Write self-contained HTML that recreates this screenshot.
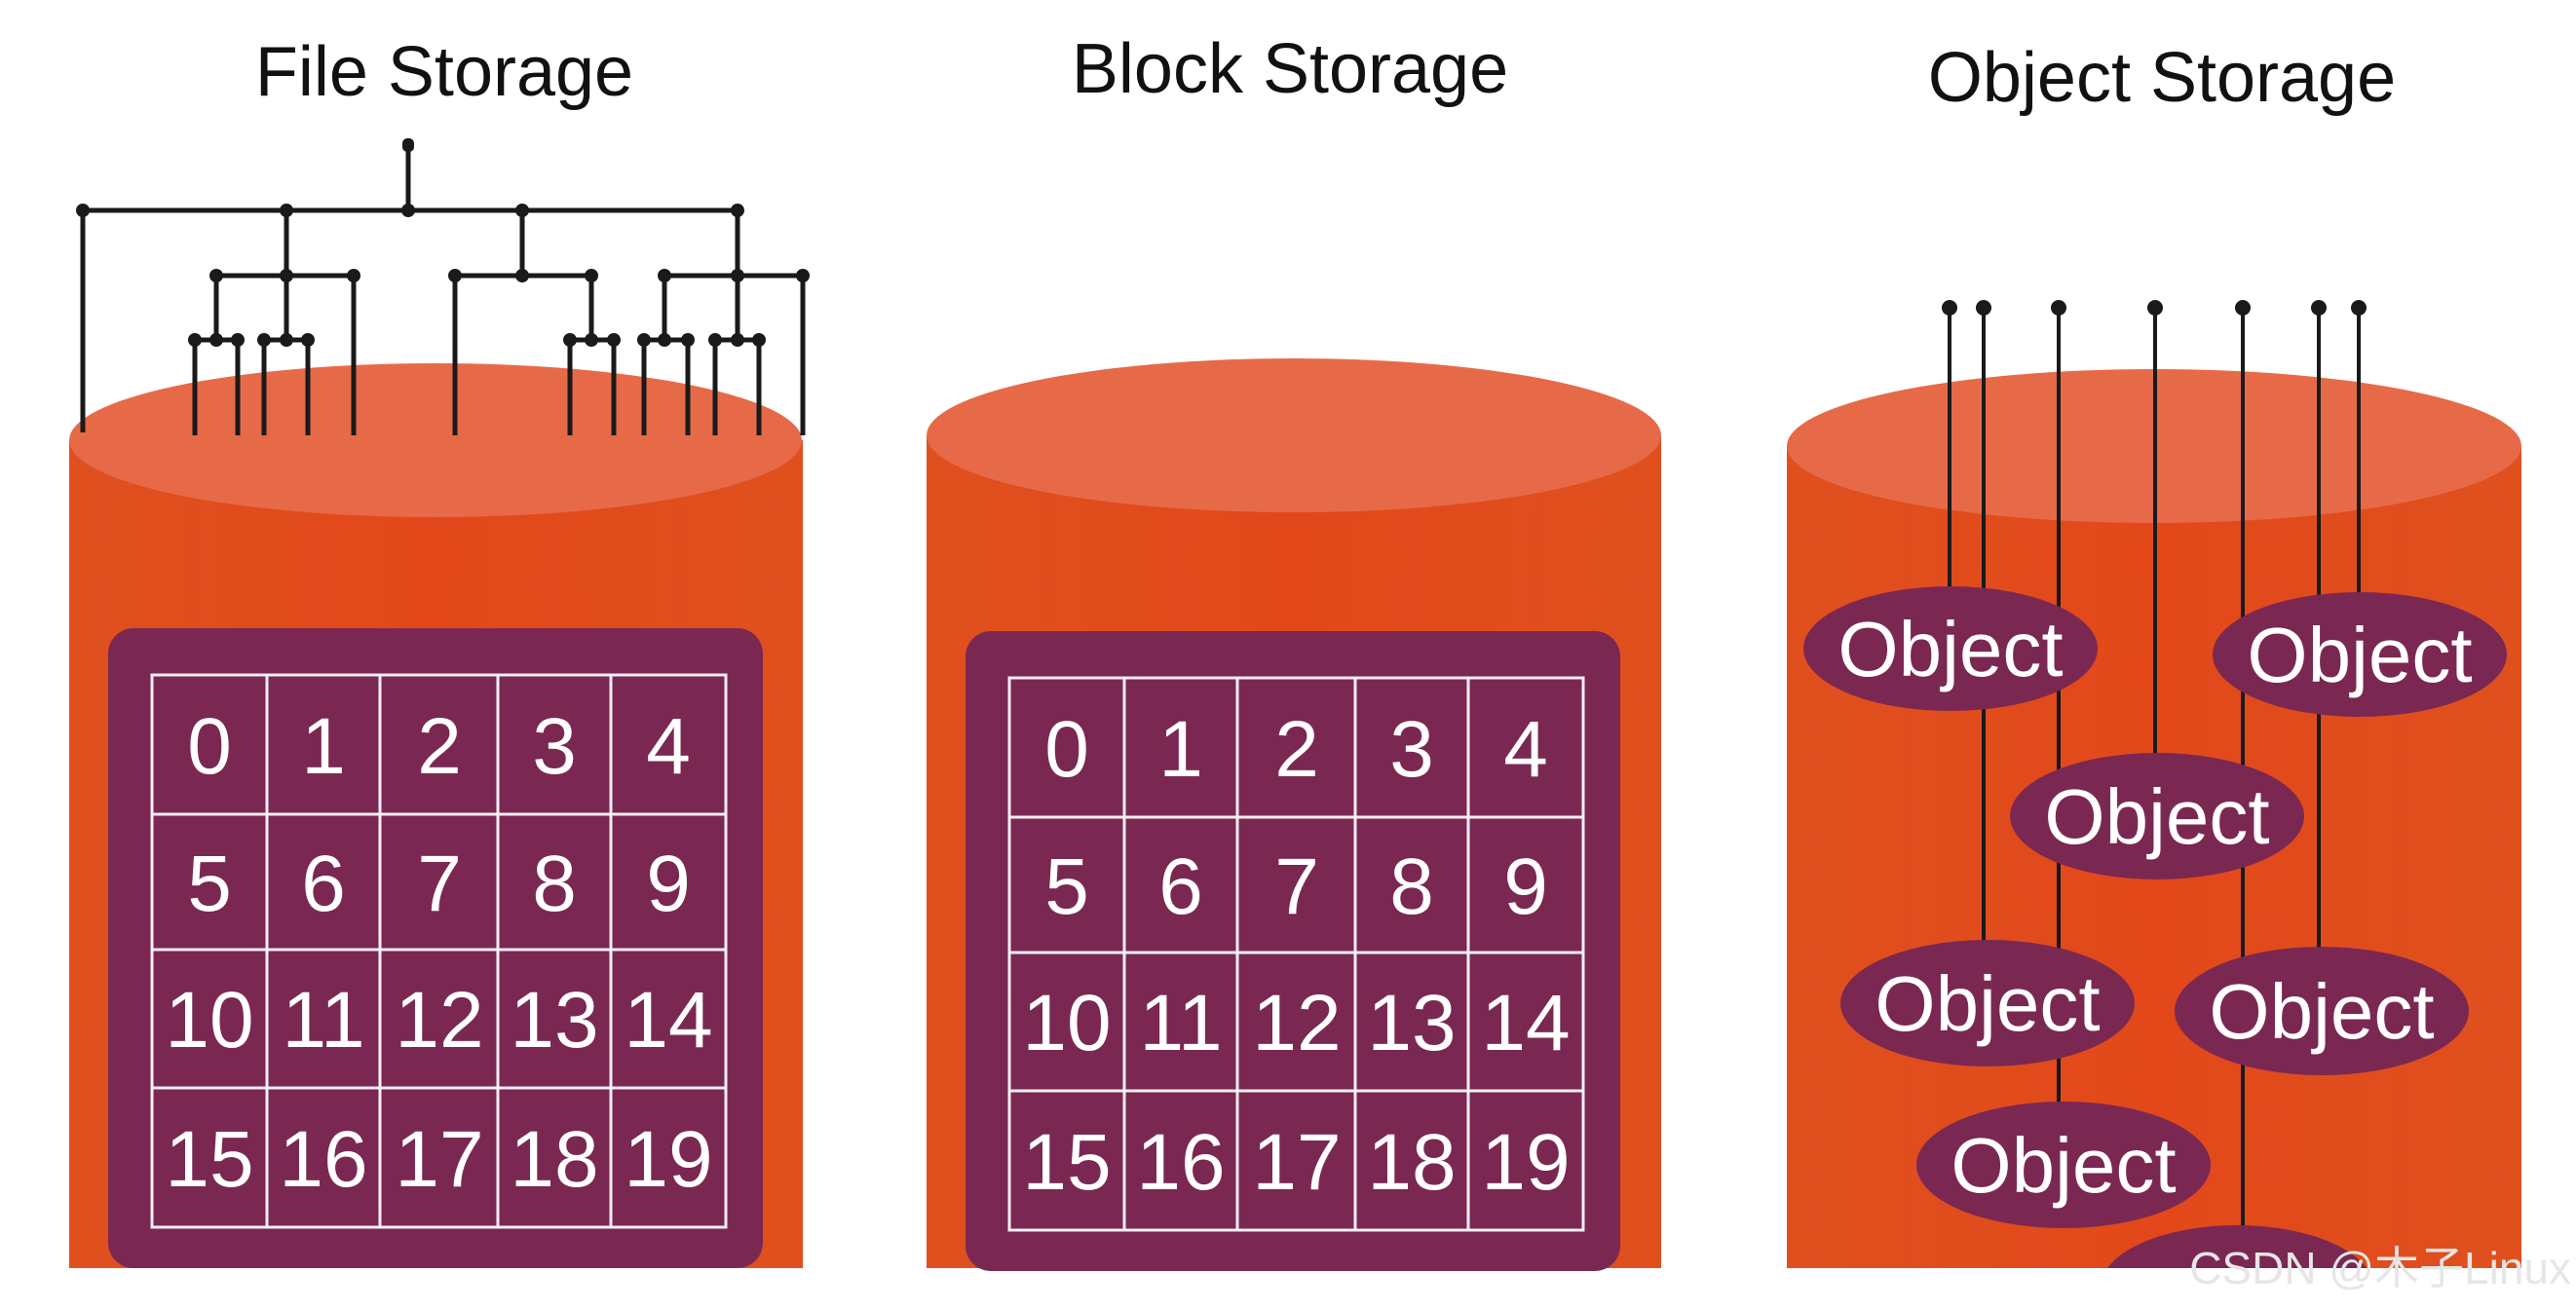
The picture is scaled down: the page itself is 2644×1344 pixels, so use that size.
<!DOCTYPE html>
<html><head><meta charset="utf-8"><style>
html,body{margin:0;padding:0;background:#fff;}
svg{display:block;}
text{font-family:"Liberation Sans","Noto Sans CJK SC",sans-serif;}
</style></head><body>
<svg width="2644" height="1344" viewBox="0 0 2644 1344" xmlns="http://www.w3.org/2000/svg">
<defs>
<linearGradient id="body" x1="0" x2="1" y1="0" y2="0">
<stop offset="0" stop-color="#e0501f"/><stop offset="0.5" stop-color="#e2481a"/><stop offset="1" stop-color="#e0501f"/>
</linearGradient>
<g id="grid">
<rect x="0" y="0" width="672" height="657" rx="26" fill="#7a2852"/>
<g stroke="#f4eef2" stroke-width="3" fill="none">
<rect x="45" y="48" width="589" height="567"/>
<line x1="163" y1="48" x2="163" y2="615"/><line x1="279" y1="48" x2="279" y2="615"/>
<line x1="400" y1="48" x2="400" y2="615"/><line x1="516" y1="48" x2="516" y2="615"/>
<line x1="45" y1="191" x2="634" y2="191"/><line x1="45" y1="330" x2="634" y2="330"/>
<line x1="45" y1="472" x2="634" y2="472"/>
</g>
<g fill="#fff" font-size="82" text-anchor="middle">
<text x="104" y="149">0</text><text x="221" y="149">1</text><text x="340" y="149">2</text><text x="458" y="149">3</text><text x="575" y="149">4</text>
<text x="104" y="290">5</text><text x="221" y="290">6</text><text x="340" y="290">7</text><text x="458" y="290">8</text><text x="575" y="290">9</text>
<text x="104" y="430">10</text><text x="221" y="430">11</text><text x="340" y="430">12</text><text x="458" y="430">13</text><text x="575" y="430">14</text>
<text x="104" y="573">15</text><text x="221" y="573">16</text><text x="340" y="573">17</text><text x="458" y="573">18</text><text x="575" y="573">19</text>
</g>
</g>
</defs>

<g fill="#111" font-size="72" text-anchor="middle">
<text x="456" y="98">File Storage</text>
<text x="1324" y="95">Block Storage</text>
<text x="2219" y="104">Object Storage</text>
</g>

<!-- Cylinder 1 -->
<rect x="71" y="452" width="753" height="850" fill="url(#body)"/>
<ellipse cx="447" cy="452" rx="376" ry="79" fill="#e76a48"/>
<use href="#grid" transform="translate(111,645)"/>

<g stroke="#1a1a1a" stroke-width="5" fill="none">
<line x1="419" y1="148" x2="419" y2="216"/>
<line x1="85" y1="216" x2="757" y2="216"/>
<line x1="85" y1="216" x2="85" y2="444"/>
<line x1="294" y1="216" x2="294" y2="349"/>
<line x1="536" y1="216" x2="536" y2="283"/>
<line x1="757" y1="216" x2="757" y2="349"/>
<line x1="222" y1="283" x2="363" y2="283"/>
<line x1="467" y1="283" x2="607" y2="283"/>
<line x1="682" y1="283" x2="824" y2="283"/>
<line x1="222" y1="283" x2="222" y2="349"/>
<line x1="363" y1="283" x2="363" y2="447"/>
<line x1="467" y1="283" x2="467" y2="447"/>
<line x1="607" y1="283" x2="607" y2="349"/>
<line x1="682" y1="283" x2="682" y2="349"/>
<line x1="824" y1="283" x2="824" y2="447"/>
<line x1="200" y1="349" x2="244" y2="349"/>
<line x1="271" y1="349" x2="316" y2="349"/>
<line x1="585" y1="349" x2="630" y2="349"/>
<line x1="661" y1="349" x2="706" y2="349"/>
<line x1="734" y1="349" x2="779" y2="349"/>
<line x1="200" y1="349" x2="200" y2="447"/><line x1="244" y1="349" x2="244" y2="447"/>
<line x1="271" y1="349" x2="271" y2="447"/><line x1="316" y1="349" x2="316" y2="447"/>
<line x1="585" y1="349" x2="585" y2="447"/><line x1="630" y1="349" x2="630" y2="447"/>
<line x1="661" y1="349" x2="661" y2="447"/><line x1="706" y1="349" x2="706" y2="447"/>
<line x1="734" y1="349" x2="734" y2="447"/><line x1="779" y1="349" x2="779" y2="447"/>
</g>
<g fill="#1a1a1a">
<rect x="413" y="142" width="12" height="14" rx="5"/>
<circle cx="85" cy="216" r="7"/><circle cx="294" cy="216" r="7"/><circle cx="419" cy="216" r="7"/><circle cx="536" cy="216" r="7"/><circle cx="757" cy="216" r="7"/>
<circle cx="222" cy="283" r="7"/><circle cx="294" cy="283" r="7"/><circle cx="363" cy="283" r="7"/>
<circle cx="467" cy="283" r="7"/><circle cx="536" cy="283" r="7"/><circle cx="607" cy="283" r="7"/>
<circle cx="682" cy="283" r="7"/><circle cx="757" cy="283" r="7"/><circle cx="824" cy="283" r="7"/>
<circle cx="200" cy="349" r="7"/><circle cx="222" cy="349" r="7"/><circle cx="244" cy="349" r="7"/>
<circle cx="271" cy="349" r="7"/><circle cx="294" cy="349" r="7"/><circle cx="316" cy="349" r="7"/>
<circle cx="585" cy="349" r="7"/><circle cx="607" cy="349" r="7"/><circle cx="630" cy="349" r="7"/>
<circle cx="661" cy="349" r="7"/><circle cx="682" cy="349" r="7"/><circle cx="706" cy="349" r="7"/>
<circle cx="734" cy="349" r="7"/><circle cx="757" cy="349" r="7"/><circle cx="779" cy="349" r="7"/>
</g>

<!-- Cylinder 2 -->
<rect x="951" y="447" width="754" height="855" fill="url(#body)"/>
<ellipse cx="1328" cy="447" rx="377" ry="79" fill="#e76a48"/>
<use href="#grid" transform="translate(991,648)"/>

<!-- Cylinder 3 -->
<rect x="1834" y="458" width="754" height="844" fill="url(#body)"/>
<ellipse cx="2211" cy="458" rx="377" ry="79" fill="#e76a48"/>

<g stroke="#1a1a1a" stroke-width="4">
<line x1="2001" y1="315" x2="2001" y2="606"/>
<line x1="2036" y1="315" x2="2036" y2="970"/>
<line x1="2113" y1="315" x2="2113" y2="1135"/>
<line x1="2212" y1="315" x2="2212" y2="778"/>
<line x1="2302" y1="315" x2="2302" y2="1262"/>
<line x1="2380" y1="315" x2="2380" y2="976"/>
<line x1="2421" y1="315" x2="2421" y2="612"/>
</g>
<g fill="#1a1a1a">
<circle cx="2001" cy="316" r="8"/><circle cx="2036" cy="316" r="8"/><circle cx="2113" cy="316" r="8"/>
<circle cx="2212" cy="316" r="8"/><circle cx="2302" cy="316" r="8"/><circle cx="2380" cy="316" r="8"/><circle cx="2421" cy="316" r="8"/>
</g>
<g fill="#7a2852">
<ellipse cx="2002" cy="666" rx="151" ry="64"/>
<ellipse cx="2422" cy="672" rx="151" ry="64"/>
<ellipse cx="2214" cy="838" rx="151" ry="65"/>
<ellipse cx="2040" cy="1030" rx="151" ry="65"/>
<ellipse cx="2383" cy="1038" rx="151" ry="66"/>
<ellipse cx="2118" cy="1196" rx="151" ry="65"/>
<ellipse cx="2296" cy="1322" rx="140" ry="64"/>
</g>
<rect x="1820" y="1302" width="824" height="42" fill="#fff"/>
<g fill="#fff" font-size="80" text-anchor="middle">
<text x="2002" y="694">Object</text>
<text x="2422" y="700">Object</text>
<text x="2214" y="866">Object</text>
<text x="2040" y="1058">Object</text>
<text x="2383" y="1066">Object</text>
<text x="2118" y="1224">Object</text>
</g>
<text x="2639" y="1318" text-anchor="end" font-size="46" fill="#e6e6e6">CSDN @木子Linux</text>
</svg>
</body></html>
